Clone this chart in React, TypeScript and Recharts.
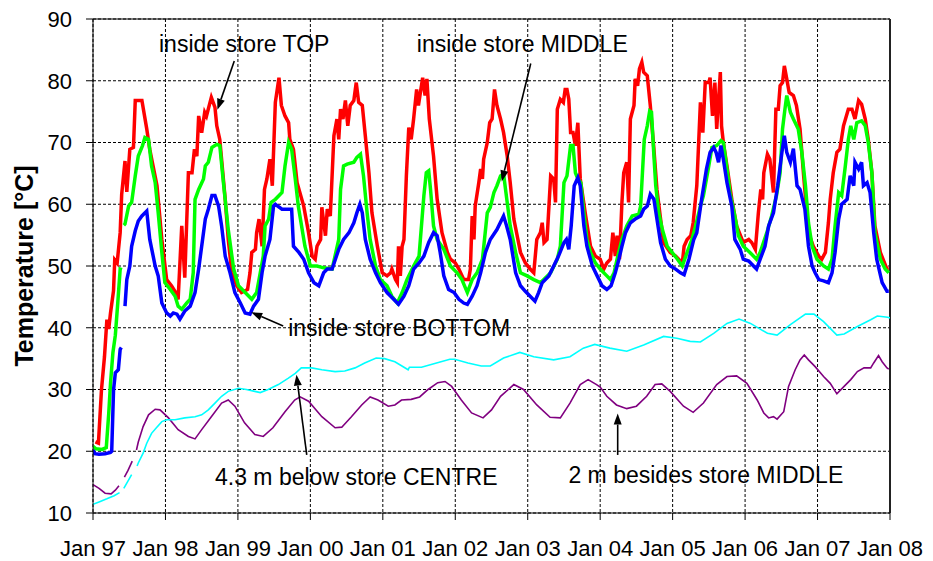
import { LineChart, Line, XAxis, YAxis, CartesianGrid, ReferenceLine, ReferenceDot } from 'recharts';

// month index counted from Jan 97, temperature in °C; null breaks the trace
type Pt = [number, number | null];

const yearLabels = ['Jan 97', 'Jan 98', 'Jan 99', 'Jan 00', 'Jan 01', 'Jan 02', 'Jan 03', 'Jan 04', 'Jan 05', 'Jan 06', 'Jan 07', 'Jan 08'];
const monthTicks = yearLabels.map((_, i) => i * 12);
const tempTicks = [10, 20, 30, 40, 50, 60, 70, 80, 90];

const insideTop: Pt[] = [
  [0.4, 21.5], [0.9, 21.3], [1.4, 29.9], [1.9, 35.3], [2.3, 41.3], [2.6, 39.8], [2.9, 42.4], [3.4, 46], [3.6, 51], [4.0, 50.5],
  [4.5, 55.4], [4.75, 61.6], [5.3, 67], [5.6, 62], [6.1, 68.9], [6.7, 69.2], [7.0, 76.8], [8.1, 76.8], [8.9, 72.2], [9.4, 68.9],
  [10.6, 63], [11.4, 54.3], [12.2, 47.8], [13.0, 46.8], [13.7, 45.7], [14.1, 44.6], [14.7, 56.5], [15.2, 48.1], [15.8, 65.1], [16.4, 65.1],
  [16.8, 68.9], [17.2, 67.8], [17.5, 74.3], [18.0, 71.6], [18.5, 74.9], [18.8, 74.3], [19.6, 77.3], [20.2, 75.7], [20.5, 72.7], [21.0, 70.5],
  [21.9, 60.8], [22.4, 54.3], [23.0, 48.9], [23.8, 46.8], [24.6, 45.7], [25.6, 46.2], [26.0, 48.9], [26.3, 52.2], [26.9, 52.7], [27.1, 55.4],
  [27.5, 57.6], [28.0, 53.2], [28.4, 62.4], [28.8, 64.1], [29.3, 67.3], [29.7, 63], [30.2, 76.5], [30.8, 80.5], [31.2, 76], [31.8, 74.3],
  [32.4, 73.2], [32.6, 70.5], [33.2, 68.9], [33.8, 63.5], [34.9, 59.7], [35.7, 55.4], [36.3, 51.6], [36.8, 51.1], [37.1, 53.2], [37.7, 54.3],
  [37.9, 59.5], [38.5, 54.9], [38.8, 59.2], [39.3, 58.1], [39.9, 71.1], [40.4, 73.8], [40.7, 70.5], [41.0, 75.4], [41.4, 73.8], [41.8, 76.8],
  [42.2, 72.7], [42.6, 76], [43.2, 76.8], [43.6, 79.7], [44.0, 76.5], [44.6, 76], [45.1, 71.1], [45.7, 65.1], [46.2, 58.6], [47.1, 53.2],
  [47.9, 48.9], [48.7, 48.4], [49.3, 48.9], [49.5, 49.5], [50.1, 47.8], [50.4, 47.3], [50.6, 53.2], [50.9, 48.4], [51.2, 53.2], [51.5, 54.3],
  [51.9, 64.6], [52.3, 72.4], [52.7, 70.5], [53.1, 73.8], [53.6, 78.6], [53.9, 76], [54.3, 78.6], [54.6, 80.5], [55.0, 77.6], [55.3, 80.3],
  [55.7, 73.8], [56.4, 67.8], [57.0, 60.8], [57.8, 55.4], [58.7, 52.2], [59.2, 51.1], [60.0, 50.5], [60.6, 49.5], [61.4, 47.8], [62.2, 47.8],
  [62.5, 49.5], [62.8, 58.1], [63.1, 54.3], [63.3, 59.7], [63.9, 63.5], [64.2, 65.7], [64.5, 64.1], [64.7, 67.3], [65.3, 70], [65.7, 73.2],
  [66.1, 73.8], [66.5, 78.6], [66.9, 76], [67.5, 73.8], [68.0, 71.6], [68.6, 67.8], [69.1, 63.5], [69.7, 57.6], [70.8, 52.2], [71.6, 50.5],
  [72.4, 49.5], [73.0, 48.9], [73.5, 54.3], [74.1, 55.4], [74.4, 57], [74.7, 53.8], [75.2, 54.3], [75.8, 64.6], [76.3, 64.1], [76.6, 60.3],
  [76.9, 75.4], [77.4, 77], [77.9, 76.5], [78.2, 78.6], [78.5, 78.6], [78.8, 77], [79.1, 71.6], [79.5, 71.6], [79.9, 69.5], [80.3, 73.2],
  [80.7, 64.1], [81.6, 58.1], [82.4, 53.2], [83.2, 51.6], [84.0, 51.1], [84.6, 49.5], [85.1, 50.5], [85.7, 51.1], [86.1, 55.4], [86.5, 51.6],
  [86.8, 54.9], [87.2, 51.1], [87.6, 60.3], [87.9, 65.1], [88.4, 66.8], [88.7, 60.3], [89.0, 73.8], [89.6, 76], [89.8, 80.3], [90.2, 79.2],
  [90.5, 81.9], [90.9, 83], [91.2, 81.4], [91.8, 80.8], [92.3, 76], [92.9, 68.9], [93.4, 62.4], [94.0, 57.6], [94.5, 53.8], [95.6, 52.2],
  [96.5, 51.6], [97.0, 51.1], [97.6, 50.5], [97.9, 53.2], [98.4, 54.3], [99.0, 54.9], [99.4, 57], [100.0, 63], [100.6, 76.5], [101.0, 71.6],
  [101.4, 79.7], [102.0, 79.7], [102.2, 80.5], [102.6, 74.3], [103.0, 79.7], [103.3, 72.2], [103.9, 81.4], [104.1, 72.7], [104.4, 70], [105.0, 66.2],
  [105.8, 60.8], [106.6, 56.5], [107.7, 53.8], [108.6, 54.3], [109.1, 53.8], [109.7, 52.7], [110.2, 58.6], [110.6, 62.4], [110.9, 60.8], [111.1, 65.1],
  [111.7, 68.1], [112.1, 67.3], [112.7, 61.9], [113.1, 75.4], [113.5, 75.4], [113.8, 79.2], [114.2, 79.7], [114.5, 82.4], [114.9, 80.3], [115.3, 78.1],
  [116.0, 77.6], [116.5, 76], [117.1, 72.2], [117.7, 64.6], [118.5, 55.4], [119.3, 53.2], [120.2, 51.6], [120.7, 51.1], [121.3, 52.2], [121.8, 57],
  [122.1, 60.8], [122.6, 65.1], [123.2, 68.4], [123.7, 68.9], [124.3, 72.7], [125.1, 75.4], [125.7, 75.4], [126.2, 73.8], [126.8, 76.8], [127.3, 76.2],
  [127.9, 73.8], [128.4, 70.5], [129.0, 65.1], [129.5, 56.5], [130.4, 52.2], [131.5, 49.5], [131.8, 49.5],
];

const insideMiddle: Pt[] = [
  [0, 20.8], [0.5, 20.4], [1.5, 20.3], [2.2, 20.6], [2.6, 26], [2.9, 31], [3.3, 36], [3.7, 38.8], [4.1, 44], [4.5, 49.5],
  [4.8, 49.4], [4.95, null], [5.1, 56.6], [5.3, 56.8], [5.9, 59.7], [6.4, 60.3], [7.0, 64.6], [7.5, 67.8], [8.2, 69.5], [8.6, 70.8],
  [9.2, 70.5], [9.7, 66.2], [10.3, 63.5], [10.8, 58.6], [11.4, 52.2], [11.9, 47.3], [12.8, 46.2], [13.6, 45.1], [14.1, 43.5], [14.7, 43],
  [15.5, 44], [16.1, 44.6], [16.6, 48.9], [16.9, 60.8], [17.5, 62.4], [18.3, 64.1], [18.6, 66.2], [19.1, 66.8], [19.7, 69.2], [20.5, 69.7],
  [21.0, 69.5], [21.6, 63.5], [22.4, 55.9], [23.3, 49.5], [24.1, 46.8], [25.2, 45.7], [26.3, 44.6], [27.1, 45.7], [27.7, 48.9], [28.2, 51.6],
  [28.5, 56.5], [29.1, 57.6], [29.5, 60.3], [30.2, 60.8], [31.3, 61.9], [31.8, 66.2], [32.4, 70], [32.9, 68.9], [33.5, 64.1], [34.0, 59.7],
  [35.1, 53.2], [36.0, 50], [37.1, 50], [38.2, 49.7], [39.6, 49.5], [40.7, 54.3], [41.0, 62.4], [41.5, 66.2], [42.1, 66.5], [43.2, 66.8],
  [43.7, 67.6], [44.3, 68.1], [44.8, 64.6], [45.4, 58.6], [45.9, 54.3], [46.8, 50], [47.6, 47.8], [48.7, 46.8], [49.5, 45.1], [50.4, 44],
  [51.2, 45.7], [52.0, 47.8], [53.1, 50], [54.0, 51.6], [54.8, 61.4], [55.2, 65.1], [55.6, 65.4], [55.9, 62.4], [56.4, 56.5], [57.0, 54.3],
  [58.1, 52.7], [59.2, 50], [60.3, 48.9], [61.1, 47.8], [62.0, 45.7], [62.8, 47.8], [63.6, 48.9], [64.5, 51.1], [65.3, 58.6], [65.8, 59.5],
  [66.4, 61.9], [66.9, 63], [67.5, 64.6], [68.0, 64.9], [68.6, 60.3], [69.1, 56.5], [70.0, 52.2], [70.8, 48.9], [71.9, 48.4], [73.0, 47.8],
  [74.1, 47.3], [75.8, 48.9], [76.9, 51.1], [77.4, 53.2], [78.0, 63.5], [78.5, 64.6], [79.1, 69.5], [79.5, 69.5], [79.9, 65.1], [80.3, 64.1],
  [80.8, 63.5], [81.3, 58.6], [81.8, 54.3], [82.4, 52.2], [83.2, 50.5], [84.0, 49.5], [84.9, 48.6], [85.7, 47.8], [86.3, 48.9], [86.8, 51.1],
  [87.6, 54.3], [88.4, 56.5], [89.3, 58.1], [90.4, 58.4], [90.7, 59.7], [91.0, 65.1], [91.3, 70.5], [91.8, 72.7], [92.2, 75.1], [92.5, 74.9],
  [92.8, 69.5], [93.2, 63], [93.7, 58.6], [94.3, 55.9], [95.1, 53.2], [95.9, 52.2], [96.8, 51.1], [97.6, 50], [98.4, 52.2], [99.2, 54.3],
  [99.8, 56.5], [100.6, 59.7], [101.1, 61.4], [101.9, 65.7], [102.5, 69.2], [103.3, 69.5], [104.0, 70.3], [104.4, 70], [105.0, 65.7], [105.5, 61.9],
  [106.3, 58.1], [106.9, 54.9], [107.7, 53.2], [108.8, 52.2], [109.9, 51.1], [110.5, 52.2], [111.6, 55.4], [112.4, 58.1], [113.2, 61.4], [113.8, 65.1],
  [114.2, 72.2], [114.6, 75.4], [114.9, 77.6], [115.5, 74.9], [116.0, 73.8], [116.8, 72.2], [117.4, 68.4], [118.0, 63], [118.5, 57], [119.1, 53.2],
  [119.9, 51.1], [121.0, 50], [121.8, 49.5], [122.4, 51.1], [122.9, 56.5], [123.5, 61.9], [124.0, 61.4], [124.6, 66.2], [125.1, 70.5], [125.5, 72.7],
  [126.0, 70.5], [126.5, 73.2], [127.3, 73.5], [127.9, 72.7], [128.4, 70], [129.0, 65.1], [129.5, 55.4], [130.4, 51.1], [131.2, 49.5], [131.8, 48.9],
];

const insideBottom: Pt[] = [
  [0, 20.2], [0.3, 19.6], [1.0, 19.5], [2.0, 19.6], [2.9, 19.8], [3.1, 20], [3.4, 29.9], [3.7, 32.7], [4.2, 33.2], [4.5, 36.5],
  [4.7, 36.8], [4.95, null], [5.3, 43.5], [5.6, 47.8], [6.1, 50], [6.4, 53.2], [7.0, 55.7], [7.5, 57.3], [8.1, 58.1], [8.9, 58.9],
  [9.4, 54.3], [10.3, 50], [10.8, 48.4], [11.4, 44], [12.2, 42.4], [12.8, 41.9], [13.3, 42.4], [13.9, 42.2], [14.4, 41.4], [15.2, 42.7],
  [16.1, 43.5], [16.9, 45.7], [17.5, 49.5], [18.0, 53.2], [18.6, 57.6], [19.1, 59.2], [19.7, 61.4], [20.2, 61.4], [20.8, 59.7], [21.3, 56.5],
  [21.9, 51.6], [22.7, 48.9], [23.5, 45.7], [24.4, 44], [25.2, 42.4], [26.0, 42.2], [26.6, 43.5], [27.4, 44.6], [28.0, 48.9], [28.5, 51.6],
  [29.3, 54.3], [29.9, 59.7], [30.2, 60], [31.3, 59.2], [32.4, 59.2], [32.9, 59.2], [33.2, 53.2], [34.1, 52.2], [34.9, 51.1], [35.7, 48.9],
  [36.6, 47.3], [37.4, 46.8], [38.2, 48.9], [38.8, 49.5], [39.6, 49.5], [40.7, 52.7], [41.5, 54.3], [42.4, 55.4], [43.2, 57], [43.7, 58.6],
  [44.2, 60], [44.6, 58.6], [45.1, 54.3], [45.9, 51.1], [46.8, 48.9], [47.6, 47.3], [48.7, 45.7], [49.8, 44.6], [50.6, 43.8], [51.5, 45.1],
  [52.3, 46.8], [53.1, 49.5], [54.0, 50.5], [54.8, 51.6], [55.6, 53.8], [56.4, 55.4], [57.0, 54.9], [57.5, 52.2], [58.1, 48.4], [58.9, 46.2],
  [59.8, 45.7], [60.6, 44.6], [61.4, 44], [62.0, 43.8], [62.8, 45.1], [63.6, 46.8], [64.2, 48.9], [65.0, 52.2], [65.8, 54.3], [66.9, 55.9],
  [68.0, 58.1], [68.5, 56.5], [69.1, 54.3], [70.0, 48.9], [70.8, 46.8], [71.6, 45.9], [72.4, 45.1], [73.2, 44.3], [73.8, 45.7], [74.4, 47.3],
  [75.5, 48.4], [76.3, 50], [77.1, 51.6], [78.0, 53.8], [78.4, 54.3], [78.8, 52.7], [79.2, 56.5], [79.7, 63], [80.3, 64.3], [80.7, 63],
  [81.3, 56.5], [81.8, 53.2], [82.7, 50], [83.5, 48.4], [84.3, 46.8], [85.1, 46.2], [85.8, 46.8], [86.5, 48.9], [87.1, 51.1], [87.6, 53.2],
  [88.2, 55.4], [89.0, 57], [89.8, 57.6], [90.7, 58.1], [91.2, 59.2], [91.8, 59.7], [92.3, 61.6], [92.9, 60.8], [93.4, 57.6], [94.0, 53.8],
  [94.8, 51.1], [95.6, 50], [96.5, 49.5], [97.3, 48.9], [97.9, 48.6], [98.7, 51.1], [99.5, 54.3], [100.0, 55.4], [100.8, 60.8], [101.6, 65.7],
  [102.2, 68.4], [102.8, 69.2], [103.2, 68.4], [103.6, 66.8], [104.0, 69.5], [104.4, 67.3], [105.0, 63.5], [105.8, 59.7], [106.3, 54.3], [107.2, 52.7],
  [107.7, 51.1], [108.6, 50.8], [109.4, 50], [109.9, 49.5], [110.5, 51.1], [111.3, 53.2], [111.9, 56.5], [112.7, 58.6], [113.4, 63], [114.1, 68.4],
  [114.5, 71.1], [114.9, 68.4], [115.5, 66.8], [116.0, 69], [116.6, 63], [117.1, 62.4], [117.9, 59.2], [118.5, 53.2], [119.1, 50], [119.6, 48.9],
  [120.2, 47.8], [121.0, 47.6], [121.8, 47.3], [122.4, 48.9], [122.9, 52.2], [123.5, 57.6], [124.0, 60], [124.9, 60.8], [125.4, 64.6], [126.0, 63],
  [126.2, 66.8], [126.8, 65.7], [127.3, 66.8], [127.6, 63], [128.2, 63.5], [128.7, 61.9], [129.3, 55.4], [129.8, 51.1], [130.7, 47.3], [131.5, 45.9],
  [131.8, 45.9],
];

const belowCentre: Pt[] = [
  [0, 11.4], [1.0, 11.8], [2.3, 12.3], [3.5, 12.8], [4.4, 13.3], [4.8, null], [5.1, 14.0], [6.4, 16.2], [6.7, null], [7.3, 17.6],
  [7.5, 18.1], [8.3, 19.7], [8.9, 21.3], [9.7, 22.9], [10.5, 23.8], [11.4, 24.8], [12.2, 25.1], [13.6, 25.1], [15.2, 25.4], [16.9, 25.6],
  [18.0, 25.9], [19.1, 26.7], [20.2, 27.8], [21.3, 28.9], [22.4, 29.7], [24.1, 30.2], [25.4, 30.0], [26.8, 29.7], [27.7, 29.5], [29.0, 30.0],
  [30.7, 30.8], [32.3, 31.8], [33.5, 32.6], [34.5, 33.5], [36.2, 33.5], [37.9, 33.2], [40.1, 32.9], [41.7, 33.0], [43.4, 33.5], [45.0, 34.3],
  [46.9, 35.1], [48.3, 35.0], [50.0, 34.5], [52.2, 33.2], [52.4, 33.6], [54.4, 33.6], [56.6, 34.2], [59.1, 34.9], [59.9, 34.9], [62.1, 34.3],
  [64.3, 33.8], [65.8, 33.8], [68.0, 35.1], [70.7, 36.0], [73.0, 35.3], [76.3, 34.8], [79.0, 35.3], [81.2, 36.7], [83.1, 37.3], [85.6, 36.7],
  [88.4, 36.2], [91.2, 37.2], [94.5, 38.6], [96.7, 38.3], [98.9, 37.8], [100.6, 37.7], [102.8, 39.1], [105.0, 40.7], [107.0, 41.4], [108.9, 40.7],
  [111.7, 39.1], [113.3, 38.8], [115.5, 40.5], [118.0, 42.2], [119.4, 42.2], [121.0, 41.0], [123.2, 38.8], [124.4, 39.0], [126.6, 40.2], [128.8, 41.3],
  [129.9, 41.9], [131.6, 41.7], [132, 41.6],
];

const besidesMiddle: Pt[] = [
  [0, 14.6], [1.0, 14.0], [2.0, 13.2], [3.0, 13.1], [3.7, 13.7], [4.3, 14.4], [4.7, null], [5.2, 15.8], [5.8, 16.9], [6.5, 18.4],
  [6.8, null], [7.2, 20.2], [7.5, 21.5], [8.3, 24.0], [9.2, 25.9], [10.3, 26.8], [11.1, 26.7], [12.5, 25.4], [14.1, 23.5], [15.8, 22.4],
  [16.9, 22.0], [18.0, 23.5], [19.6, 25.6], [21.3, 27.8], [22.4, 28.3], [23.5, 27.3], [25.1, 24.6], [26.8, 22.7], [28.2, 22.4], [29.8, 23.8],
  [31.8, 26.4], [33.4, 28.3], [34.3, 28.8], [35.7, 28.1], [37.9, 25.6], [40.1, 23.8], [41.2, 23.9], [42.8, 25.6], [44.5, 27.5], [45.9, 28.8],
  [47.2, 28.3], [48.9, 27.3], [50.0, 27.5], [51.1, 28.3], [52.7, 28.4], [54.1, 28.8], [55.5, 30.0], [57.1, 31.1], [58.3, 31.3], [59.4, 30.5],
  [61.0, 28.3], [62.7, 26.2], [64.6, 25.4], [66.0, 26.7], [67.5, 28.9], [69.7, 30.8], [71.3, 30.0], [73.5, 27.5], [75.7, 25.5], [77.4, 25.4],
  [79.0, 27.8], [80.7, 30.8], [82.0, 31.6], [83.4, 30.8], [84.0, 30.4], [85.1, 28.9], [86.7, 27.5], [88.4, 26.9], [90.0, 27.3], [91.7, 28.9],
  [93.1, 30.8], [94.2, 30.9], [95.6, 29.7], [97.8, 27.3], [99.4, 26.3], [101.1, 27.8], [103.3, 30.8], [105.0, 32.1], [106.6, 32.2], [108.3, 31.0],
  [110.0, 28.3], [111.1, 26.2], [111.9, 25.4], [112.7, 25.6], [113.3, 25.2], [114.4, 26.4], [115.2, 30.5], [116.3, 33.2], [117.1, 34.8], [117.8, 35.6],
  [118.5, 34.8], [119.6, 33.7], [121.0, 32.1], [122.1, 31.0], [123.2, 29.3], [124.4, 30.5], [125.5, 31.6], [126.6, 32.9], [127.7, 33.5], [128.8, 33.5],
  [129.3, 34.3], [130.1, 35.5], [130.7, 34.5], [131.5, 33.5], [131.8, 33.3],
];

// text anchor and arrow (tail -> head), in month / °C
const notes = [
  { text: 'inside store TOP', at: [25.05, 84.7], tail: [23.4, 83.2], head: [20.6, 75.3] },
  { text: 'inside store MIDDLE', at: [71.1, 84.7], tail: [72.5, 82.8], head: [67.7, 63.7] },
  { text: 'inside store BOTTOM', at: [50.7, 38.6], tail: [31.5, 40.3], head: [26.2, 42.5] },
  { text: '4.3 m below store CENTRE', at: [43.6, 14.6], tail: [35.4, 19.4], head: [33.7, 32.4] },
  { text: '2 m besides store MIDDLE', at: [101.5, 14.85], tail: [86.9, 19.4], head: [86.9, 26.1] },
];

const rows = (pts: Pt[]) => pts.map(([m, t]) => ({ m, t }));

const FONT = '"Liberation Sans", Arial, Helvetica, sans-serif';

function Arrow(p: any) {
  const { x1, y1, x2, y2 } = p;
  const a = Math.atan2(y2 - y1, x2 - x1);
  const len = 11;
  const w = 4;
  const bx = x2 - len * Math.cos(a);
  const by = y2 - len * Math.sin(a);
  const pts = `${x2},${y2} ${bx + w * Math.sin(a)},${by - w * Math.cos(a)} ${bx - w * Math.sin(a)},${by + w * Math.cos(a)}`;
  return (
    <g>
      <line x1={x1} y1={y1} x2={bx} y2={by} stroke="#000" strokeWidth={1.6} />
      <polygon points={pts} fill="#000" />
    </g>
  );
}

const noteText = (text: string) => (p: any) => (
  <text x={p.cx} y={p.cy} textAnchor="middle" fontSize={23} fontFamily={FONT} fill="#000">
    {text}
  </text>
);

const yTitle = (p: any) => {
  const vb = p.viewBox;
  const cx = 24;
  const cy = vb.y + vb.height / 2;
  return (
    <text
      x={cx}
      y={cy}
      transform={`rotate(-90 ${cx} ${cy})`}
      textAnchor="middle"
      dominantBaseline="central"
      fontSize={25}
      fontWeight="bold"
      fontFamily={FONT}
      fill="#000"
    >
      Temperature [°C]
    </text>
  );
};

export default function App() {
  const tickStyle = { fill: '#000', fontSize: 22, fontFamily: FONT };
  return (
    <div style={{ position: 'absolute', left: 0, top: 0, background: '#fff' }}>
      <LineChart width={933} height={561} margin={{ top: 19, right: 43, bottom: 0, left: 0 }}>
        <CartesianGrid stroke="#000" strokeDasharray="3 2" />
        <XAxis
          dataKey="m"
          type="number"
          domain={[0, 132]}
          ticks={monthTicks}
          interval={0}
          tickFormatter={(v) => yearLabels[Math.round(v / 12)]}
          tick={tickStyle}
          tickSize={7}
          tickMargin={20}
          height={48}
          axisLine={{ stroke: '#000' }}
          tickLine={{ stroke: '#000' }}
          allowDataOverflow
        />
        <YAxis
          type="number"
          domain={[10, 90]}
          ticks={tempTicks}
          interval={0}
          tick={tickStyle}
          tickSize={7}
          tickMargin={14}
          width={93}
          axisLine={{ stroke: '#000' }}
          tickLine={{ stroke: '#000' }}
          label={yTitle}
          allowDataOverflow
        />
        <ReferenceLine y={90} stroke="#000" strokeWidth={1} />
        <ReferenceLine x={132} stroke="#222" strokeWidth={2} />

        <Line data={rows(insideTop)} dataKey="t" type="linear" stroke="#ff0000" strokeWidth={3.5} dot={false} isAnimationActive={false} />
        <Line data={rows(insideMiddle)} dataKey="t" type="linear" stroke="#00ff00" strokeWidth={3.5} dot={false} isAnimationActive={false} />
        <Line data={rows(insideBottom)} dataKey="t" type="linear" stroke="#0000ff" strokeWidth={3.5} dot={false} isAnimationActive={false} />
        <Line data={rows(besidesMiddle)} dataKey="t" type="linear" stroke="#800080" strokeWidth={1.6} dot={false} isAnimationActive={false} />
        <Line data={rows(belowCentre)} dataKey="t" type="linear" stroke="#00ffff" strokeWidth={1.6} dot={false} isAnimationActive={false} />

        {notes.map((n) => (
          <ReferenceLine
            key={`a-${n.text}`}
            segment={[{ x: n.tail[0], y: n.tail[1] }, { x: n.head[0], y: n.head[1] }]}
            shape={Arrow}
            ifOverflow="visible"
          />
        ))}
        {notes.map((n) => (
          <ReferenceDot key={`t-${n.text}`} x={n.at[0]} y={n.at[1]} shape={noteText(n.text)} ifOverflow="visible" />
        ))}
      </LineChart>
    </div>
  );
}
